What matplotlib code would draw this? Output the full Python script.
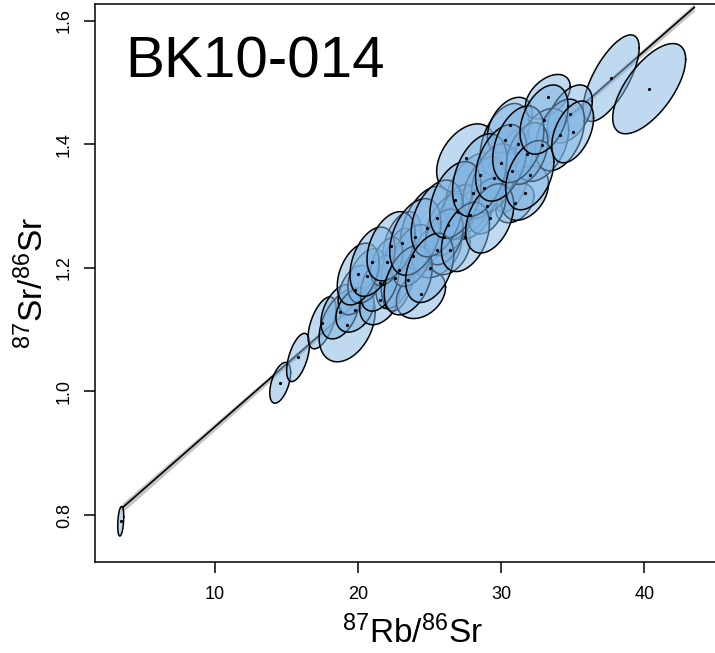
import numpy as np
import matplotlib
matplotlib.use("Agg")
import matplotlib.pyplot as plt

plt.rcParams['font.family'] = ['Liberation Sans', 'DejaVu Sans']
plt.rcParams['mathtext.default'] = 'regular'

# error ellipses: centre, half extents in x and y, correlation
rb_sr = [3.40, 14.55, 15.80, 17.48, 19.23, 37.69, 40.35,
         18.73, 19.78, 19.78, 21.52, 20.61, 22.57, 23.06, 22.85, 24.39,
         24.81, 25.51, 26.42, 28.02, 27.53, 27.81, 30.75, 30.26, 30.96,
         30.61, 31.66, 33.26, 34.80, 32.84, 34.10,
         21.5, 23.8, 26.3, 27.0, 28.8, 29.5, 31.8, 26.0, 22.0, 29.0,
         20.0, 21.0, 22.3, 23.5, 24.0, 25.5, 25.0, 26.8, 27.5, 28.5,
         29.2, 30.0, 31.2, 32.0, 33.0, 35.0]
sr_sr = [0.790, 1.014, 1.055, 1.111, 1.108, 1.507, 1.490,
         1.129, 1.164, 1.132, 1.148, 1.187, 1.184, 1.241, 1.197, 1.157,
         1.265, 1.229, 1.229, 1.321, 1.378, 1.286, 1.357, 1.407, 1.305,
         1.431, 1.321, 1.477, 1.449, 1.399, 1.415,
         1.175, 1.220, 1.270, 1.290, 1.330, 1.345, 1.385, 1.250, 1.210, 1.300,
         1.190, 1.210, 1.235, 1.180, 1.250, 1.280, 1.200, 1.310, 1.250, 1.350,
         1.280, 1.370, 1.400, 1.350, 1.440, 1.420]
err_x = [0.21, 0.73, 0.80, 0.98, 1.96, 1.96, 2.55,
         1.33, 1.18, 1.33, 1.41, 1.33, 1.33, 1.33, 1.25, 1.72,
         1.88, 1.72, 1.41, 1.96, 2.04, 1.57, 1.41, 1.72, 1.33,
         1.57, 1.65, 1.57, 1.57, 1.88, 1.72,
         1.34, 1.46, 1.57, 1.34, 1.46, 1.57, 1.46, 1.34, 1.12, 1.34,
         1.46, 1.57, 1.68, 1.68, 1.79, 1.79, 1.68, 1.79, 1.68, 1.90,
         1.68, 1.79, 1.79, 1.68, 1.68, 1.46]
err_y = [0.024, 0.033, 0.039, 0.042, 0.060, 0.070, 0.073,
         0.044, 0.040, 0.036, 0.040, 0.044, 0.050, 0.050, 0.067, 0.039,
         0.067, 0.045, 0.040, 0.065, 0.055, 0.040, 0.067, 0.059, 0.032,
         0.045, 0.044, 0.036, 0.047, 0.059, 0.058,
         0.045, 0.050, 0.050, 0.045, 0.050, 0.056, 0.050, 0.045, 0.039, 0.045,
         0.050, 0.056, 0.056, 0.056, 0.062, 0.062, 0.056, 0.062, 0.056, 0.067,
         0.056, 0.062, 0.062, 0.056, 0.056, 0.050]
rho = [0.3, 0.5, 0.55, 0.55, 0.35, 0.7, 0.65,
       0.4, 0.4, 0.35, 0.35, 0.4, 0.4, 0.4, 0.35, 0.3,
       0.4, 0.35, 0.35, 0.4, 0.4, 0.35, 0.4, 0.4, 0.35,
       0.4, 0.35, 0.45, 0.45, 0.4, 0.4,
       0.4, 0.4, 0.4, 0.4, 0.4, 0.4, 0.4, 0.35, 0.4, 0.35,
       0.38, 0.38, 0.38, 0.38, 0.38, 0.38, 0.38, 0.38, 0.38, 0.38,
       0.38, 0.38, 0.38, 0.38, 0.38, 0.45]

# isochron fit
intercept = 0.7407
slope = 0.02025
fit_range = [3.5, 43.5]
band_a, band_b, band_xm = 0.0035, 0.0003, 26.0

fig = plt.figure(figsize=(7.15, 6.53), dpi=100)
ax = fig.add_axes([95 / 715, 1 - 562 / 653, 635 / 715, 558 / 653])

xf = np.linspace(fit_range[0], fit_range[1], 200)
yf = intercept + slope * xf
hw = np.sqrt(band_a ** 2 + (band_b * (xf - band_xm)) ** 2)
ax.fill_between(xf, yf - hw, yf + hw, color='#c4c4c4', lw=0, zorder=1)
ax.plot(xf, yf, color='black', lw=1.2, zorder=2)

t = np.linspace(0, 2 * np.pi, 120)
for x0, y0, wx, wy, r in zip(rb_sr, sr_sr, err_x, err_y, rho):
    ex = x0 + wx * np.cos(t)
    ey = y0 + wy * (r * np.cos(t) + np.sqrt(1 - r ** 2) * np.sin(t))
    ax.fill(ex, ey, facecolor='#7fb4e2', alpha=0.5, edgecolor='none', zorder=3)
    ax.plot(ex, ey, color='black', lw=1.1, zorder=3)
    ax.plot(x0, y0, 'o', color='black', ms=1.3, zorder=4)

ax.set_xlim(1.6, 46.0)
ax.set_ylim(0.724, 1.627)
ax.set_xticks([10, 20, 30, 40])
ax.set_yticks([0.8, 1.0, 1.2, 1.4, 1.6])
ax.set_yticklabels(['0.8', '1.0', '1.2', '1.4', '1.6'], rotation=90, va='center')
ax.tick_params(axis='both', labelsize=13, length=8, width=1.1, color='black')
ax.tick_params(axis='x', pad=9)
ax.tick_params(axis='y', pad=8)
for s in ax.spines.values():
    s.set_linewidth(1.1)

ax.set_xlabel(r'$^{87}$Rb/$^{86}$Sr', fontsize=24, labelpad=9)
ax.set_ylabel(r'$^{87}$Sr/$^{86}$Sr', fontsize=24, labelpad=4)
ax.text(0.047, 0.869, 'BK10-014', transform=ax.transAxes, fontsize=42,
        ha='left', va='baseline')

fig.savefig('out.png', dpi=100)
